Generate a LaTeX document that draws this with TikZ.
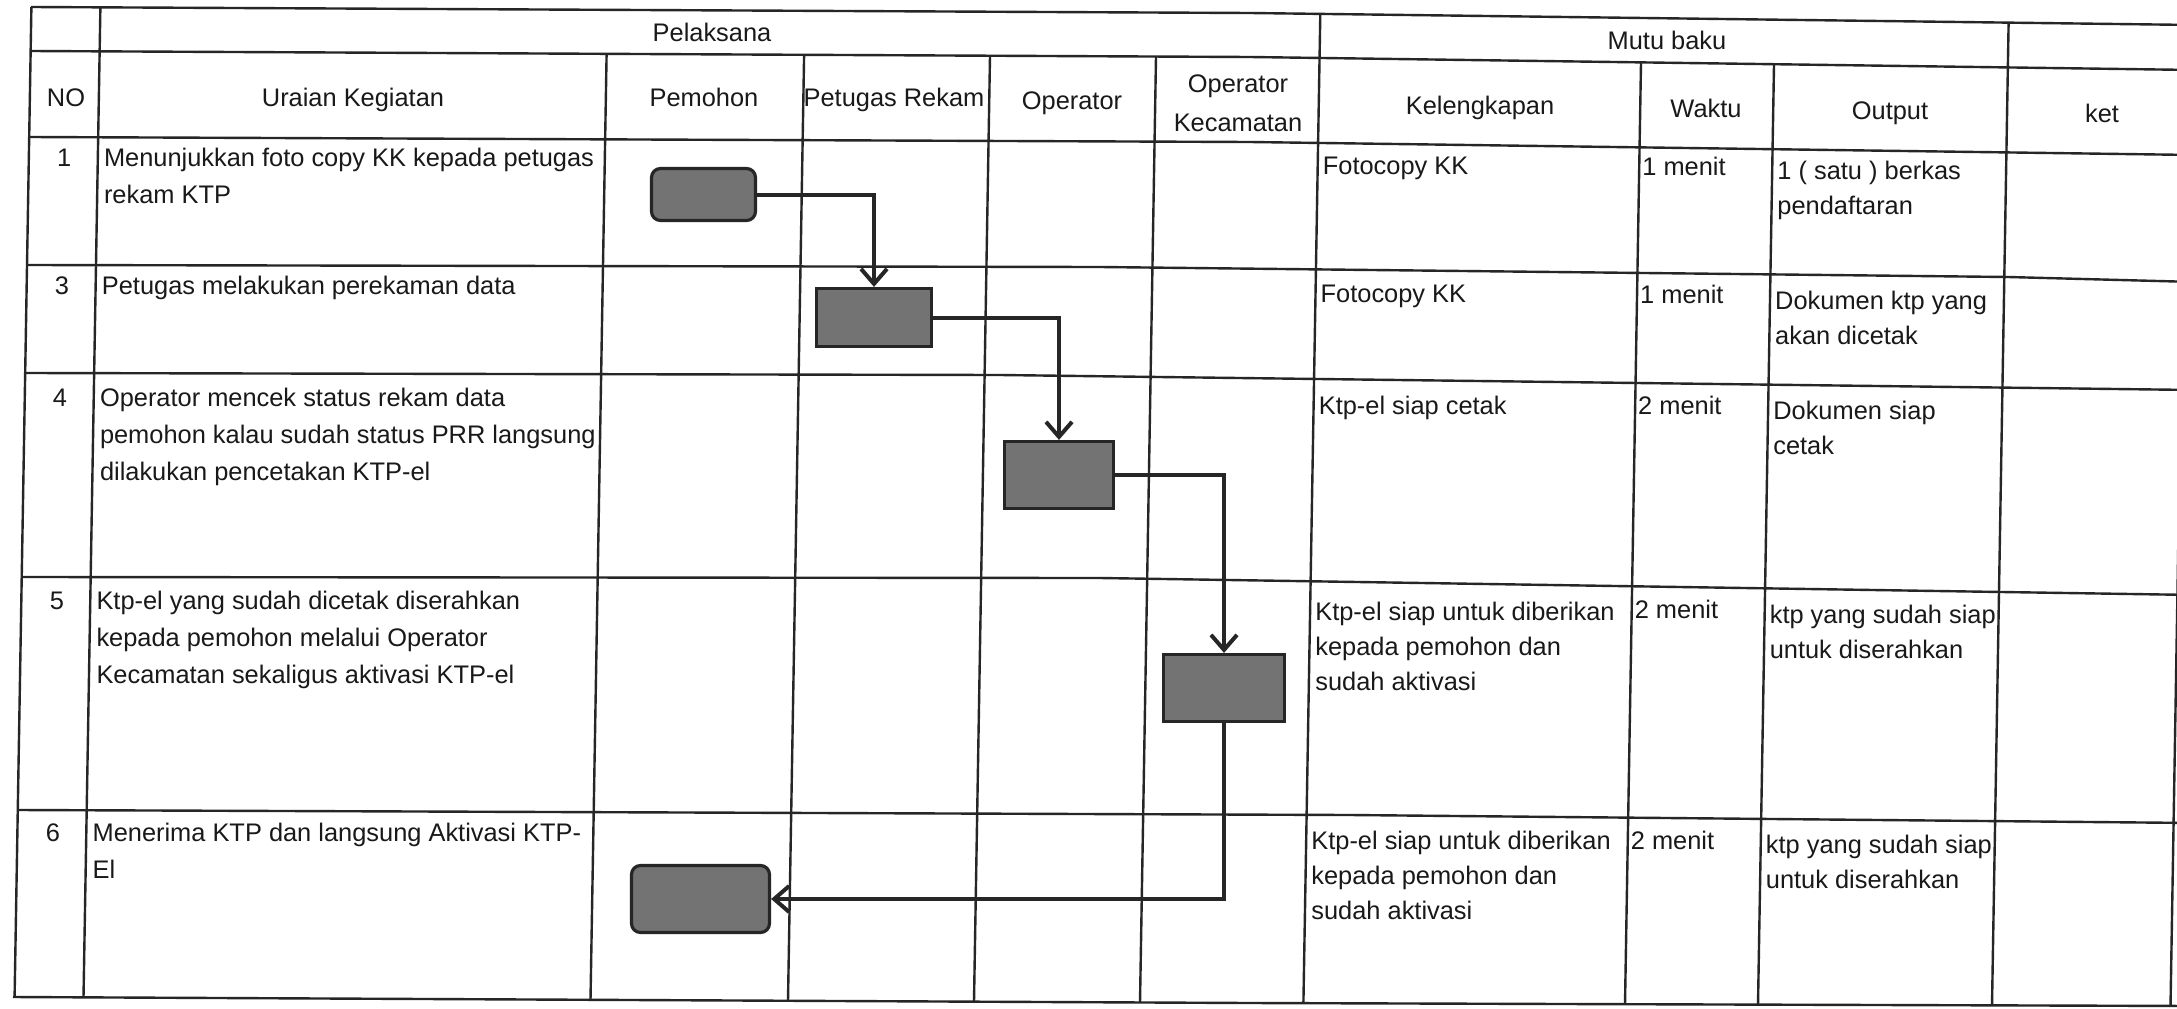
\documentclass[tikz,border=0pt]{standalone}
\usepackage{fontspec}
\setmainfont{Liberation Sans}
\usetikzlibrary{arrows.meta}
\newcommand\fst{\rule{0pt}{19pt}}
\begin{document}
\begin{tikzpicture}[x=1pt,y=-1pt,
  grid/.style={line width=2.4pt, draw=black!85},
  txt/.style={anchor=north west, inner sep=0pt, align=left, font=\fontsize{25.4}{37}\selectfont, text=black!90},
  txtr/.style={txt, font=\fontsize{25.4}{35}\selectfont},
  hdr/.style={anchor=base, inner sep=0pt, font=\fontsize{25.4}{37}\selectfont, text=black!90},
  stepbox/.style={draw=black!85, line width=3.2pt, fill=black!55, inner sep=0pt},
  flow/.style={line width=4pt, draw=black!85, -{Straight Barb[length=15pt,width=26pt]}},
]
\useasboundingbox (0,0) rectangle (2177,1009);
\fill[white] (0,0) rectangle (2177,1009);

% horizontal rules
\draw[grid] (31,7) -- (1250,13) -- (2195,25);
\draw[grid] (30.6,51) -- (1250,57) -- (2195,70);
\draw[grid] (29.2,137) -- (1250,142) -- (2195,155);
\draw[grid] (27,265) -- (1100,267) -- (2008,277) -- (2195,282);
\draw[grid] (25.2,373) -- (1000,375) -- (2195,390);
\draw[grid] (21.7,577) -- (1100,578) -- (2195,595);
\draw[grid] (17.7,810) -- (1350,815) -- (2195,823);
\draw[grid] (13,997) -- (1250,1003) -- (2195,1006);

% vertical rules
\draw[grid] (31.4,7) -- (14.6,997);
\draw[grid] (100.4,7) -- (83.5,997.5);
\draw[grid] (606.6,53.8) -- (590.5,999.8);
\draw[grid] (804.1,54.8) -- (788,1000.5);
\draw[grid] (990,55.7) -- (974,1001.4);
\draw[grid] (1156,56.5) -- (1140,1002.5);
\draw[grid] (1320.3,13.9) -- (1303.4,1003.2);
\draw[grid] (1641,62.5) -- (1625,1004.3);
\draw[grid] (1774,64.4) -- (1758,1004.7);
\draw[grid] (2008.6,22.8) -- (1992,1005.5);
\draw[grid] (2187,25) -- (2170.5,1006);

% header
\node[hdr] (hPel) at (712,41) {Pelaksana};
\node[hdr] (hMutu) at (1667,49) {Mutu baku};
\node[hdr] (hNo) at (66,106) {NO};
\node[hdr] (hUra) at (353,106) {Uraian Kegiatan};
\node[hdr] (hPem) at (704,106) {Pemohon};
\node[hdr] (hPet) at (894,106) {Petugas Rekam};
\node[hdr] (hOp) at (1072,109) {Operator};
\node[hdr, anchor=north, align=center, font=\fontsize{25.4}{39}\selectfont] (hOpK) at (1238,73) {\fst Operator\\Kecamatan};
\node[hdr] (hKel) at (1480,114) {Kelengkapan};
\node[hdr] (hWak) at (1706,117) {Waktu};
\node[hdr] (hOut) at (1890,119) {Output};
\node[hdr] (hKet) at (2102,122) {ket};

% row numbers
\node[hdr] (n1) at (64.3,166) {1};
\node[hdr] (n3) at (62,294) {3};
\node[hdr] (n4) at (60,406) {4};
\node[hdr] (n5) at (57,609) {5};
\node[hdr] (n6) at (53,841) {6};

% activity descriptions
\node[txt] (u1) at (103.8,147) {\fst Menunjukkan foto copy KK kepada petugas\\rekam KTP};
\node[txt] (u3) at (101.7,275) {\fst Petugas melakukan perekaman data};
\node[txt] (u4) at (99.8,387) {\fst Operator mencek status rekam data\\pemohon kalau sudah status PRR langsung\\dilakukan pencetakan KTP-el};
\node[txt] (u5) at (96.3,590) {\fst Ktp-el yang sudah dicetak diserahkan\\kepada pemohon melalui Operator\\Kecamatan sekaligus aktivasi KTP-el};
\node[txt] (u6) at (92.4,822) {\fst Menerima KTP dan langsung Aktivasi KTP-\\El};

% kelengkapan
\node[txtr] (k1) at (1322.7,155) {\fst Fotocopy KK};
\node[txtr] (k3) at (1320.5,283) {\fst Fotocopy KK};
\node[txtr] (k4) at (1318.6,395) {\fst Ktp-el siap cetak};
\node[txtr] (k5) at (1315.1,601) {\fst Ktp-el siap untuk diberikan\\kepada pemohon dan\\sudah aktivasi};
\node[txtr] (k6) at (1311.2,830) {\fst Ktp-el siap untuk diberikan\\kepada pemohon dan\\sudah aktivasi};

% waktu
\node[txtr] (w1) at (1642.2,156) {\fst 1 menit};
\node[txtr] (w3) at (1640,284) {\fst 1 menit};
\node[txtr] (w4) at (1638,395) {\fst 2 menit};
\node[txtr] (w5) at (1634.6,599) {\fst 2 menit};
\node[txtr] (w6) at (1630.7,830) {\fst 2 menit};

% output
\node[txtr] (o1) at (1777.2,160) {\fst 1 ( satu ) berkas\\pendaftaran};
\node[txtr] (o3) at (1775,290) {\fst Dokumen ktp yang\\akan dicetak};
\node[txtr] (o4) at (1773.1,400) {\fst Dokumen siap\\cetak};
\node[txtr] (o5) at (1769.6,604) {\fst ktp yang sudah siap\\untuk diserahkan};
\node[txtr] (o6) at (1765.7,834) {\fst ktp yang sudah siap\\untuk diserahkan};

% flow boxes
\node[stepbox, rounded corners=9pt, minimum width=104pt, minimum height=52pt] (b1) at (703.5,194.5) {};
\node[stepbox, minimum width=115pt, minimum height=58pt] (b2) at (874,317.5) {};
\node[stepbox, minimum width=109pt, minimum height=67pt] (b3) at (1059,475) {};
\node[stepbox, minimum width=121pt, minimum height=67pt] (b4) at (1224,688) {};
\node[stepbox, rounded corners=9pt, minimum width=138pt, minimum height=67pt] (b5) at (700.5,899) {};

% connectors
\draw[flow] (b1.east) -| (b2.north);
\draw[flow] (b2.east) -| (b3.north);
\draw[flow] (b3.east) -| (b4.north);
\draw[flow] (b4.south) |- (b5.east);
\end{tikzpicture}
\end{document}
